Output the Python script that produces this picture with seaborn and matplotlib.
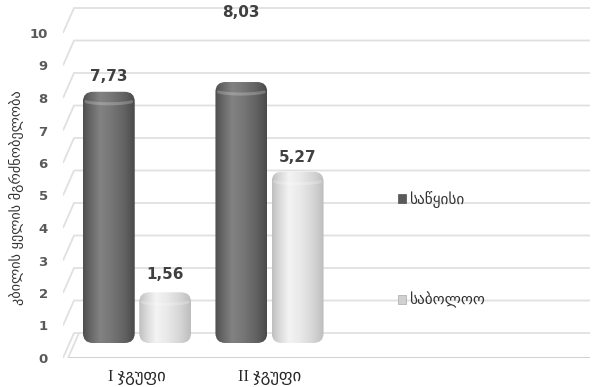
import numpy as np
import pandas as pd
import matplotlib
matplotlib.use("Agg")
import matplotlib.pyplot as plt
import seaborn as sns
from matplotlib.patches import FancyBboxPatch, Rectangle
from matplotlib.transforms import ScaledTranslation
from matplotlib.colors import LinearSegmentedColormap

# ---- data -------------------------------------------------------------
groups = ["I ჯგუფი", "II ჯგუფი"]
phases = ["საწყისი", "საბოლოო"]
initial_scores = [7.73, 8.03]
final_scores = [1.56, 5.27]
y_ticks = [0, 1, 2, 3, 4, 5, 6, 7, 8, 9, 10]
y_title = "კბილის ყელის მგრძნობელობა"

df = pd.DataFrame({
    "group": groups * 2,
    "phase": [phases[0]] * len(groups) + [phases[1]] * len(groups),
    "score": initial_scores + final_scores,
})

# ---- style ------------------------------------------------------------
sns.set_theme(style="white")
plt.rcParams["font.family"] = ["DejaVu Sans"]

W, H, DPI = 593, 387, 100
fig = plt.figure(figsize=(W / DPI, H / DPI), dpi=DPI)
fig.patch.set_facecolor("white")

# axes: value 0 sits on the front edge of the floor
ax_left, ax_right, ax_bottom = 63, 590, 358
ax = fig.add_axes([ax_left / W, (H - ax_bottom) / H,
                   (ax_right - ax_left) / W, ax_bottom / H])

px_per_cat = 132.5      # pixels between category centres
px_per_unit = 32.5      # pixels per score unit
cat0_px = 137.0
xlim = ((ax_left - cat0_px) / px_per_cat, (ax_right - cat0_px) / px_per_cat)
ylim = (0, ax_bottom / px_per_unit)

dark_base, light_base = "#666666", "#d6d6d6"
sns.barplot(data=df, x="group", y="score", hue="phase", order=groups,
            hue_order=phases, palette=[dark_base, light_base],
            width=0.85, gap=0.08, ax=ax, legend=False, zorder=3)

ax.set_xlim(*xlim)
ax.set_ylim(*ylim)

# ---- 3-D style back wall and floor -----------------------------------
depth_dx = 11 / px_per_cat
depth_dy = 25 / px_per_unit
grid_c = "#e0e0e0"
x_wall = xlim[0]
for v in y_ticks:
    ax.plot([x_wall, x_wall + depth_dx, xlim[1]],
            [v, v + depth_dy, v + depth_dy],
            color=grid_c, lw=1.3, zorder=1, solid_capstyle="butt")
floor_x = (68 - cat0_px) / px_per_cat
ax.plot([floor_x, xlim[1]], [0, 0], color="#c4c4c4", lw=1.8, zorder=1)
ax.plot([floor_x, floor_x + depth_dx], [0, depth_dy], color=grid_c,
        lw=1.3, zorder=1)

# ---- cylinders drawn over the seaborn bars ----------------------------
lift = ScaledTranslation(0, 15 / DPI, fig.dpi_scale_trans)
bar_trans = ax.transData + lift

dark_cmap = LinearSegmentedColormap.from_list(
    "dark", [(0, "#4e4e4e"), (0.15, "#686868"), (0.33, "#828282"),
             (0.55, "#767676"), (0.8, "#626262"), (1, "#4a4a4a")])
light_cmap = LinearSegmentedColormap.from_list(
    "light", [(0, "#bfbfbf"), (0.15, "#dadada"), (0.33, "#f4f4f4"),
              (0.55, "#e9e9e9"), (0.8, "#d5d5d5"), (1, "#bdbdbd")])

ux = 1 / px_per_cat
uy = 1 / px_per_unit
aspect = px_per_cat / px_per_unit
radius_px = 10

bars = [p for p in ax.patches if isinstance(p, Rectangle)]
for bar in bars:
    x0, w, h = bar.get_x(), bar.get_width(), bar.get_height()
    is_dark = matplotlib.colors.to_hex(bar.get_facecolor()) == dark_base
    bar.set_visible(False)
    shape = FancyBboxPatch((x0, 0), w, h,
                           boxstyle=f"round,pad=0,rounding_size={radius_px * ux}",
                           mutation_aspect=aspect, transform=bar_trans,
                           facecolor="none", edgecolor="none", zorder=3)
    ax.add_patch(shape)
    grad = np.linspace(0, 1, 256)[None, :]
    img = ax.imshow(grad, cmap=dark_cmap if is_dark else light_cmap,
                    extent=(x0, x0 + w, 0, h), aspect="auto",
                    transform=bar_trans, interpolation="bicubic", zorder=3)
    img.set_clip_path(shape)
    # soft elliptical rim of the top face
    xs = np.linspace(x0 + 3 * ux, x0 + w - 3 * ux, 60)
    xc = x0 + w / 2
    rim = (h - 8 * uy) - 4 * uy * np.sqrt(np.clip(1 - ((xs - xc) / (w / 2)) ** 2, 0, 1))
    rim_line, = ax.plot(xs, rim, color="white", alpha=0.22, lw=2.2,
                        transform=bar_trans, zorder=4)
    rim_line.set_clip_path(shape)

ax.set_xlim(*xlim)
ax.set_ylim(*ylim)

# ---- value labels -----------------------------------------------------
label_lift_px = {(0, 0): 8, (1, 0): 62, (0, 1): 10, (1, 1): 7}
hue_w = 0.85 / 2
for j, vals in enumerate([initial_scores, final_scores]):
    for i, v in enumerate(vals):
        xc = i + (j - 0.5) * hue_w
        ax.annotate(f"{v:.2f}".replace(".", ","), xy=(xc, v),
                    xytext=(0, (15 + label_lift_px[(i, j)]) * 72 / DPI),
                    textcoords="offset points", ha="center", va="bottom",
                    fontsize=11, fontweight="bold", color="#404040",
                    zorder=6)

# ---- axes text --------------------------------------------------------
for s in ax.spines.values():
    s.set_visible(False)
ax.set_yticks(y_ticks)
ax.set_yticklabels([str(t) for t in y_ticks], fontsize=9.5,
                   fontweight="bold", color="#595959")
ax.set_xticks(range(len(groups)))
ax.set_xticklabels(groups, fontsize=12, color="#262626",
                   family=["Liberation Serif", "DejaVu Sans"])
ax.tick_params(axis="y", length=0, pad=11)
ax.tick_params(axis="x", length=0, pad=8)
ax.set_xlabel("")
ax.set_ylabel("")
ax.grid(False)

fig.text(17 / W, 1 - 198 / H, y_title, rotation=90, ha="center",
         va="center", fontsize=10.3, color="#333333")

# ---- legend -----------------------------------------------------------
handles = [Rectangle((0, 0), 1, 1, facecolor="#5a5a5a", edgecolor="#3a3a3a", lw=0.4),
           Rectangle((0, 0), 1, 1, facecolor="#d0d0d0", edgecolor="#9a9a9a", lw=0.4)]
fig.legend(handles, phases, loc="upper left",
           bbox_to_anchor=(398 / W, 1 - 191 / H), frameon=False,
           fontsize=11, labelcolor="#333333", handlelength=0.5,
           handleheight=0.5, handletextpad=0.2, labelspacing=5.5,
           borderpad=0, borderaxespad=0)

fig.savefig("out.png", dpi=DPI, facecolor="white")
